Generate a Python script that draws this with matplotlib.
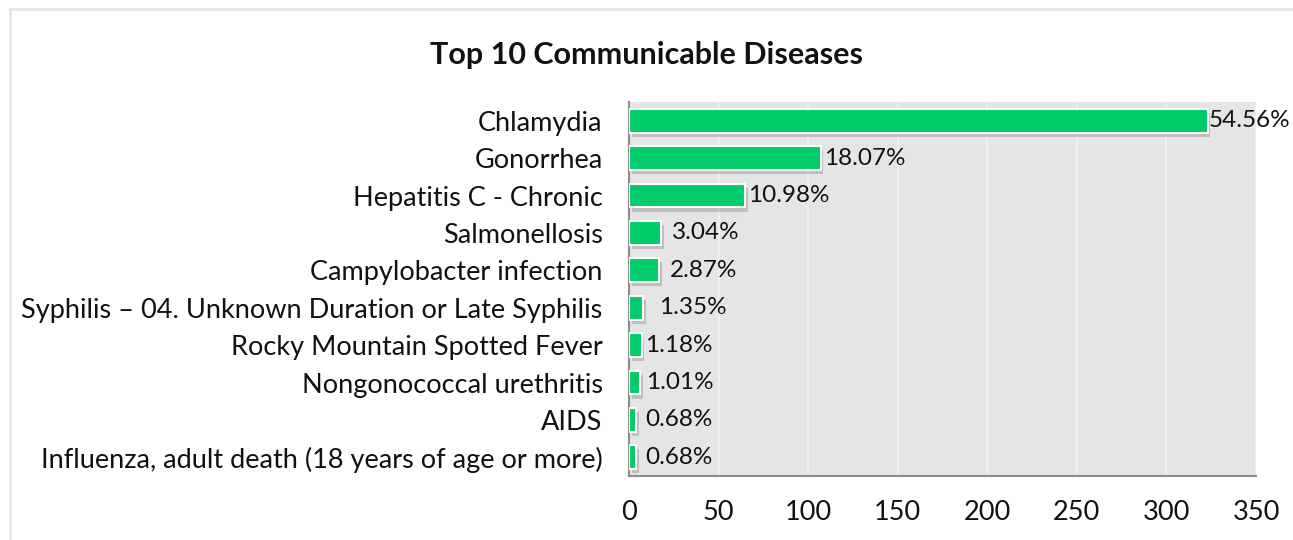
import matplotlib.pyplot as plt
import matplotlib.patheffects as pe
from matplotlib.lines import Line2D

diseases = [
    "Chlamydia",
    "Gonorrhea",
    "Hepatitis C - Chronic",
    "Salmonellosis",
    "Campylobacter infection",
    "Syphilis \u2013 04. Unknown Duration or Late Syphilis",
    "Rocky Mountain Spotted Fever",
    "Nongonococcal urethritis",
    "AIDS",
    "Influenza, adult death (18 years of age or more)",
]
cases = [323, 107, 65, 18, 17, 8, 7, 6, 4, 4]
total_cases = 592
xticks = [0, 50, 100, 150, 200, 250, 300, 350]

# label nudges (pixels to the right of each bar end)
label_pad = [1, 3, 3, 11, 10, 16, 4, 6, 9, 9]

plt.rcParams['font.family'] = ['Lato', 'DejaVu Sans']

fig = plt.figure(figsize=(12.93, 5.4), dpi=100)
ax = fig.add_axes([629 / 1293, 1 - 476 / 540, (1256 - 629) / 1293, (476 - 102) / 540])

# outer chart border
fig.add_artist(Line2D([10 / 1293, 10 / 1293], [0, 1 - 9 / 540], transform=fig.transFigure,
                      color="#E6E6E6", lw=2))
fig.add_artist(Line2D([10 / 1293, 1], [1 - 9 / 540, 1 - 9 / 540], transform=fig.transFigure,
                      color="#E6E6E6", lw=2))

ypos = list(range(len(diseases)))
bars = ax.barh(ypos, cases, height=0.64, color="#00CC6A", edgecolor="white", linewidth=1.5,
               zorder=3)
for b in bars:
    b.set_path_effects([pe.SimplePatchShadow(offset=(2, -3), shadow_rgbFace="#777777", alpha=0.35),
                        pe.Normal()])

for i, n in enumerate(cases):
    pct = 100.0 * n / total_cases
    ax.annotate("{:.2f}%".format(pct), xy=(n, i), xytext=(label_pad[i] * 0.72, 0),
                textcoords="offset points", ha="left", va="center", fontsize=17.5,
                color="#111111", zorder=4)

ax.set_xlim(0, 350)
ax.set_ylim(len(diseases) - 0.5, -0.5)
ax.set_xticks(xticks)
ax.set_yticks(ypos)
ax.set_yticklabels(diseases)
ax.set_facecolor("#E5E5E5")
ax.grid(axis="x", color="#F2F2F2", linewidth=1.2, zorder=0)
ax.set_axisbelow(True)
ax.tick_params(axis="both", length=0, labelsize=19.5, colors="#111111")
ax.tick_params(axis="y", pad=19)
ax.tick_params(axis="x", pad=17)

for side in ["top", "right"]:
    ax.spines[side].set_visible(False)
ax.spines["left"].set_color("#8C8C8C")
ax.spines["left"].set_linewidth(1.5)
ax.spines["bottom"].set_color("#8C8C8C")
ax.spines["bottom"].set_linewidth(1.5)

fig.text(647 / 1293, 1 - 55 / 540, "Top 10 Communicable Diseases", ha="center", va="center",
         fontsize=22, fontweight="bold", color="#111111")

fig.savefig("out.png", dpi=100)
